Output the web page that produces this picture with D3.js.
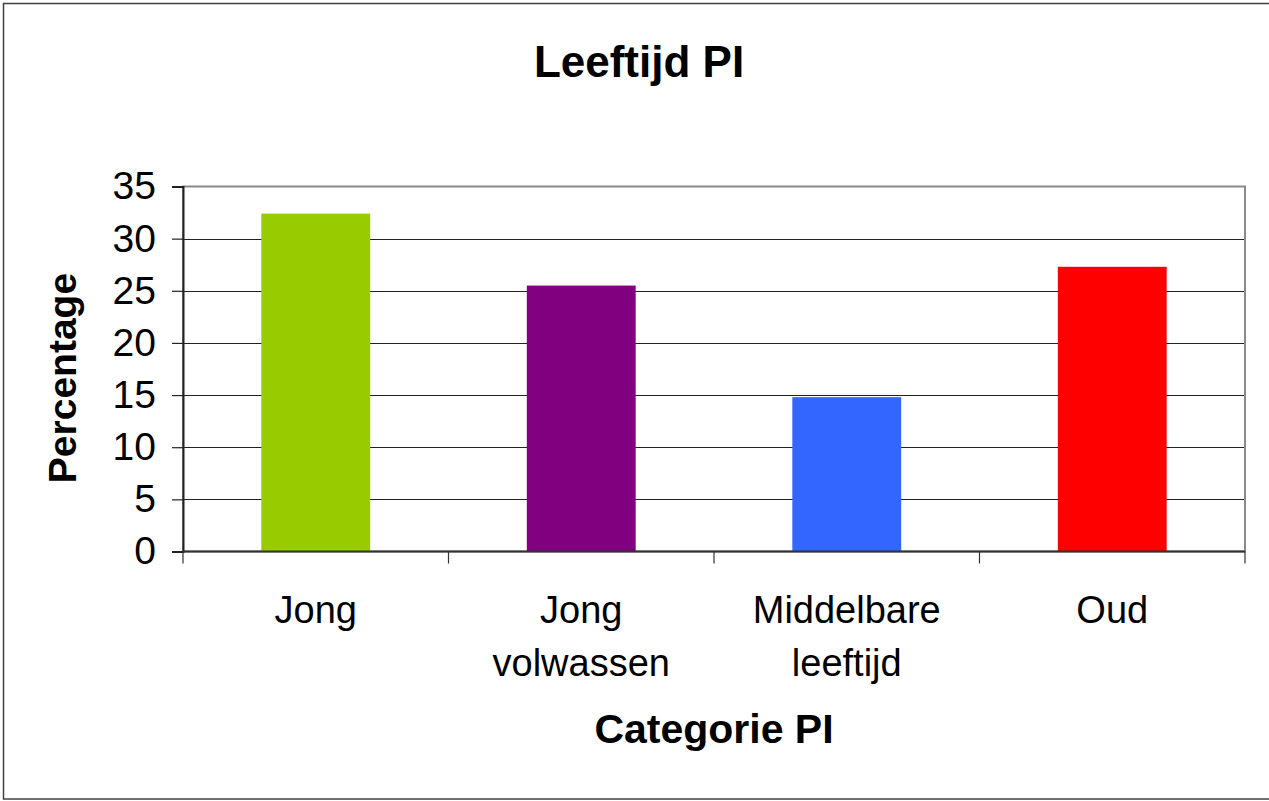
<!DOCTYPE html>
<html>
<head>
<meta charset="utf-8">
<script src="https://cdn.jsdelivr.net/npm/d3@7"></script>
<style>
  html, body { margin: 0; padding: 0; background: #fff; }
  svg { display: block; font-family: "Liberation Sans", Arial, sans-serif; }
</style>
</head>
<body>
<svg id="chart" width="1269" height="801"></svg>
<script>
const categories = [["Jong"], ["Jong", "volwassen"], ["Middelbare", "leeftijd"], ["Oud"]];
const values = [32.4, 25.5, 14.8, 27.3];
const colors = ["#99CC00", "#800080", "#3366FF", "#FF0000"];
const yTicks = [0, 5, 10, 15, 20, 25, 30, 35];
const title = "Leeftijd PI";
const xTitle = "Categorie PI";
const yTitle = "Percentage";

const svg = d3.select("#chart");
const W = 1269, H = 801;
const m = { left: 183, right: 1245, top: 186.5, bottom: 551.5 };

// outer border
svg.append("rect").attr("x", 3.5).attr("y", 3.5).attr("width", W).attr("height", 795.5)
  .attr("fill", "#fff").attr("stroke", "#404040").attr("stroke-width", 1.5);

const keys = categories.map((c, i) => i);
const x = d3.scaleBand().domain(keys).range([m.left, m.right]).paddingInner(0.59).paddingOuter(0.295);
const y = d3.scaleLinear().domain([0, 35]).range([m.bottom, m.top]);

// gridlines
svg.append("g").selectAll("line").data(yTicks.filter(t => t > 0 && t < 35)).join("line")
  .attr("x1", m.left).attr("x2", m.right)
  .attr("y1", d => Math.round(y(d)) + 0.5).attr("y2", d => Math.round(y(d)) + 0.5)
  .attr("stroke", "#222").attr("stroke-width", 1.2);

// plot frame (top/right gray)
svg.append("rect").attr("x", m.left).attr("y", m.top).attr("width", m.right - m.left).attr("height", m.bottom - m.top)
  .attr("fill", "none").attr("stroke", "#8a8a8a").attr("stroke-width", 2);

// bars
svg.append("g").selectAll("rect").data(values).join("rect")
  .attr("x", (d, i) => x(i)).attr("width", x.bandwidth())
  .attr("y", d => y(d)).attr("height", d => m.bottom - y(d))
  .attr("fill", (d, i) => colors[i]);

// y axis
const yAxis = d3.axisLeft(y).tickValues(yTicks).tickSize(11).tickPadding(16);
const gy = svg.append("g").attr("transform", `translate(${m.left},0)`).call(yAxis);
gy.select(".domain").attr("stroke", "#222").attr("stroke-width", 2);
gy.selectAll(".tick line").attr("stroke", "#222").attr("stroke-width", 1.2);
gy.selectAll(".tick text").attr("font-size", 39).attr("fill", "#000")
  .attr("font-family", "'Liberation Sans', Arial, sans-serif");

// x axis: boundary ticks
const bounds = d3.range(categories.length + 1).map(i => m.left + i * x.step());
const gx = svg.append("g");
gx.append("line").attr("x1", m.left).attr("x2", m.right).attr("y1", m.bottom).attr("y2", m.bottom)
  .attr("stroke", "#333").attr("stroke-width", 2);
gx.selectAll("line.tk").data(bounds).join("line").attr("class", "tk")
  .attr("x1", d => d).attr("x2", d => d).attr("y1", m.bottom).attr("y2", m.bottom + 12)
  .attr("stroke", "#333").attr("stroke-width", 1.2);

// category labels
const lab = gx.selectAll("text.cat").data(categories).join("text").attr("class", "cat")
  .attr("x", (d, i) => x(i) + x.bandwidth() / 2).attr("y", 623)
  .attr("text-anchor", "middle").attr("font-size", 38).attr("fill", "#000");
lab.selectAll("tspan").data(d => d).join("tspan")
  .attr("x", function () { return d3.select(this.parentNode).attr("x"); })
  .attr("dy", (d, i) => i === 0 ? 0 : 53)
  .text(d => d);

// titles
svg.append("text").attr("x", 639).attr("y", 77).attr("text-anchor", "middle")
  .attr("font-size", 44).attr("font-weight", "bold").text(title);
svg.append("text").attr("x", (m.left + m.right) / 2).attr("y", 743).attr("text-anchor", "middle")
  .attr("font-size", 41).attr("font-weight", "bold").text(xTitle);
svg.append("text").attr("transform", `translate(76,378) rotate(-90)`).attr("text-anchor", "middle")
  .attr("font-size", 39).attr("font-weight", "bold").text(yTitle);
</script>
</body>
</html>
